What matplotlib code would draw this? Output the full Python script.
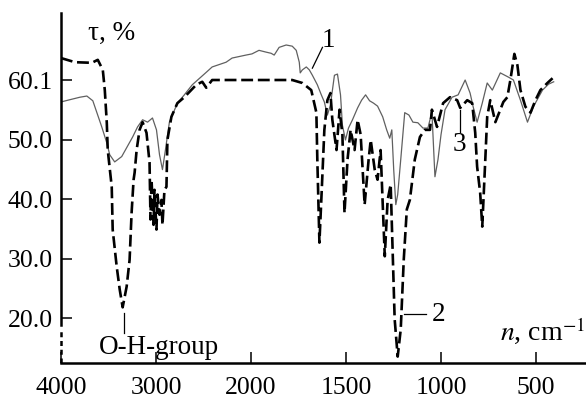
import numpy as np
import matplotlib

matplotlib.use("Agg")
import matplotlib.pyplot as plt

plt.rcParams["font.family"] = ["Liberation Serif", "DejaVu Serif"]
plt.rcParams["mathtext.fontset"] = "stix"

# Spectrum 1 (thin solid): wavenumber, cm^-1 / transmittance, %
wn1 = [4000, 3927, 3801, 3728, 3665, 3571, 3518, 3487, 3435, 3361, 3246, 3194,
       3141, 3089, 3037, 2995, 2963, 2932, 2901, 2859, 2775, 2702, 2618, 2471,
       2409, 2262, 2199, 2053, 1995, 1958, 1921, 1894, 1878, 1852, 1815, 1783,
       1762, 1746, 1741, 1730, 1709, 1693, 1677, 1651, 1630, 1614, 1598, 1582,
       1561, 1545, 1529, 1519, 1503, 1487, 1466, 1439, 1418, 1397, 1376, 1355,
       1334, 1307, 1286, 1270, 1259, 1249, 1238, 1228, 1212, 1191, 1169, 1148,
       1122, 1095, 1069, 1048, 1032, 1016, 1000, 979, 942, 910, 873, 847, 831,
       810, 783, 757, 730, 688, 646, 619, 582, 545, 514, 466, 434, 407]
t1 = [56.4, 56.7, 57.2, 57.4, 56.6, 52.2, 49.5, 47.5, 46.3, 47.2, 50.5, 52.2,
      53.4, 53.0, 53.7, 51.7, 47.5, 45.0, 48.3, 53.0, 56.2, 57.6, 59.3, 61.4,
      62.3, 63.1, 63.8, 64.3, 64.5, 65.1, 64.8, 64.6, 64.3, 65.6, 66.0, 65.8,
      65.1, 63.1, 61.3, 61.8, 62.3, 61.8, 60.9, 59.3, 57.6, 56.4, 54.2, 55.9,
      60.9, 61.1, 57.6, 52.5, 50.0, 52.0, 53.4, 55.4, 56.7, 57.6, 56.6, 56.2,
      55.7, 53.9, 51.7, 50.3, 51.7, 45.0, 39.1, 40.8, 46.7, 54.6, 54.2, 53.0,
      52.9, 52.0, 52.0, 54.7, 43.8, 46.7, 50.9, 55.1, 57.2, 57.6, 60.1, 57.9,
      55.6, 53.0, 56.2, 59.6, 58.4, 61.3, 60.6, 60.1, 56.7, 53.0, 55.6, 58.4,
      59.4, 59.8]

# Spectrum 2 (thick dashed)
wn2 = [4000, 3853, 3675, 3613, 3560, 3539, 3518, 3508, 3466, 3456, 3414, 3382,
       3351, 3309, 3278, 3257, 3236, 3225, 3204, 3173, 3141, 3100, 3068, 3058,
       3047, 3026, 3016, 2995, 2984, 2963, 2943, 2932, 2911, 2890, 2880, 2838,
       2775, 2702, 2576, 2513, 2471, 2409, 1783, 1730, 1683, 1656, 1651, 1640,
       1630, 1614, 1598, 1582, 1572, 1550, 1534, 1519, 1508, 1492, 1476, 1455,
       1439, 1423, 1402, 1381, 1370, 1349, 1334, 1318, 1296, 1281, 1265, 1244,
       1228, 1212, 1196, 1180, 1164, 1138, 1111, 1085, 1058, 1048, 1021, 989,
       953, 915, 899, 862, 836, 820, 810, 794, 783, 767, 757, 741, 714, 688,
       672, 651, 635, 614, 598, 582, 556, 529, 503, 477, 440, 413]
t2 = [63.8, 63.1, 63.0, 63.5, 61.8, 58.4, 52.9, 48.3, 42.1, 34.9, 28.7, 24.8,
      21.8, 25.3, 29.8, 37.7, 43.3, 44.5, 48.3, 51.7, 53.0, 51.2, 46.2, 36.6,
      43.3, 35.7, 41.6, 34.9, 40.8, 37.4, 39.9, 35.7, 41.6, 42.1, 50.0, 53.9,
      56.2, 57.2, 59.3, 59.8, 58.8, 60.1, 60.1, 59.6, 58.4, 54.6, 46.7, 32.7,
      39.9, 51.7, 56.7, 57.9, 53.4, 48.3, 55.1, 50.9, 37.7, 46.7, 51.7, 48.3,
      53.4, 50.9, 39.1, 46.7, 50.0, 45.0, 43.3, 48.3, 30.4, 39.9, 42.5, 19.8,
      13.5, 18.1, 29.9, 38.3, 39.9, 46.7, 50.5, 51.7, 51.7, 55.1, 52.2, 56.2,
      57.2, 56.7, 55.4, 56.7, 56.2, 51.2, 45.5, 41.1, 35.4, 46.7, 53.9, 56.7,
      53.0, 55.1, 56.4, 57.2, 60.1, 64.5, 62.6, 58.4, 55.6, 54.6, 56.7, 58.4,
      59.6, 60.4]

x_ticks = [4000, 3000, 2000, 1500, 1000, 500]
y_ticks = [20.0, 30.0, 40.0, 50.0, 60.1]
y_tick_labels = ["20.0", "30.0", "40.0", "50.0", "60.1"]


# region below 2000 cm^-1 is stretched twice
def fwd(w):
    w = np.asarray(w, dtype=float)
    return np.where(w >= 2000, w, 2000 + 2 * (w - 2000))


def inv(u):
    u = np.asarray(u, dtype=float)
    return np.where(u >= 2000, u, 2000 + (u - 2000) / 2)


fig = plt.figure(figsize=(5.86, 3.98), dpi=100)
ax = fig.add_axes([61 / 586, 35 / 398, 525 / 586, 350 / 398])
ax.set_xscale("function", functions=(fwd, inv))
ax.set_xlim(4000, 237)
ax.set_ylim(12.42, 71.39)

ax.plot(wn1, t1, color="#606060", lw=0.9)
ax.plot(wn2, t2, color="black", lw=1.9, ls=(0, (4.5, 1.8)))

for s in ["top", "right"]:
    ax.spines[s].set_visible(False)
ax.spines["bottom"].set_linewidth(1.8)
ax.spines["left"].set_linewidth(1.8)
ax.spines["left"].set_bounds(18.9, 71.39)
ax.plot([4000, 4000], [12.42, 18.0], color="black", lw=1.8,
        ls=(0, (2, 1.5)), clip_on=False)

ax.set_xticks(x_ticks)
ax.set_xticklabels([str(v) for v in x_ticks])
ax.set_yticks(y_ticks)
ax.set_yticklabels(y_tick_labels)
ax.xaxis.set_minor_locator(matplotlib.ticker.NullLocator())
ax.tick_params(axis="both", direction="in", length=8, width=1.1,
               labelsize=18.5)
ax.tick_params(axis="x", pad=10)
ax.tick_params(axis="y", pad=6)

ax.text(3717, 67.9, "τ, %", fontsize=19.5, ha="left", va="center")
ax.text(688, 17.8, "$n$, cm$^{-1}$", fontsize=20, ha="left", va="center")

# band labels
ax.plot([3340, 3340], [17.4, 20.9], color="black", lw=0.9)
ax.text(2974, 15.1, "O-H-group", fontsize=19.5, ha="center", va="center")
ax.plot([1624, 1677], [65.6, 62.1], color="black", lw=0.9)
ax.text(1593, 66.7, "1", fontsize=19.5, ha="center", va="center")
ax.plot([1196, 1080], [20.6, 20.6], color="black", lw=0.9)
ax.text(1012, 20.6, "2", fontsize=19.5, ha="center", va="center")
ax.plot([900, 900], [51.3, 55.1], color="black", lw=0.9)
ax.text(905, 49.2, "3", fontsize=19.5, ha="center", va="center")

fig.savefig("out.png", dpi=100)
